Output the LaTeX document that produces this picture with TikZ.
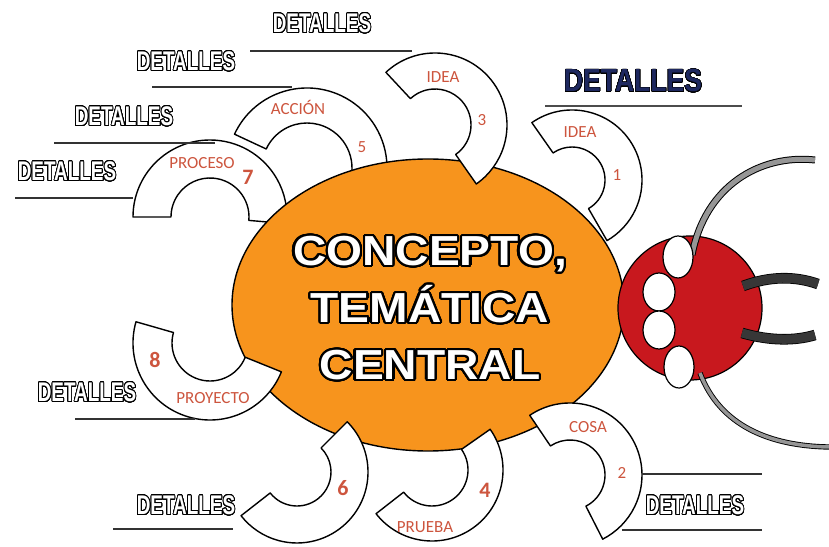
\documentclass[tikz,border=0pt]{standalone}
\usepackage{fontspec}
\setmainfont{Liberation Sans}
\newfontfamily\patafont{Carlito}
\usepackage{contour}
\contournumber{32}
\usetikzlibrary{calc}

\definecolor{naranja}{RGB}{247,148,29}
\definecolor{rojo}{RGB}{200,24,30}
\definecolor{tinta}{RGB}{205,85,62}
\definecolor{marino}{RGB}{30,40,95}
\definecolor{pinza}{RGB}{55,55,55}
\definecolor{antena}{RGB}{150,150,150}

% letras blancas con borde negro
\newcommand{\hueco}[3]{\scalebox{#1}[1]{\contourlength{#2}\contour{black}{#3}}}

\begin{document}
\begin{tikzpicture}[x=1pt, y=1pt,
    pata/.style={draw=black, fill=white, line width=1.4pt, line join=round},
    rotulo/.style={text=tinta, font=\patafont\fontsize{17}{17}\selectfont, inner sep=0pt},
    numero/.style={text=tinta, font=\patafont\fontsize{17}{17}\selectfont, inner sep=0pt},
    numgrande/.style={text=tinta, font=\patafont\bfseries\fontsize{22}{22}\selectfont, inner sep=0pt},
    detalles/.style={text=white, font=\bfseries\fontsize{27}{27}\selectfont, inner sep=0pt},
    raya/.style={draw=black!80, line width=1.8pt}]
\useasboundingbox (0,0) rectangle (829,546);

% patas que quedan debajo del cuerpo
\foreach \cx/\cy/\ro/\ri/\a/\b in {572/366/70/33/125/-60, 307/378/80/45/155/-30, 210/329/77/39/180/-5}
    \draw[pata] (\cx,\cy) ++(\a:\ro) arc[start angle=\a, end angle=\b, radius=\ro]
        -- ($(\cx,\cy)+(\b:\ri)$) arc[start angle=\b, end angle=\a, radius=\ri] -- cycle;

% cuerpo
\draw[fill=naranja, line width=1.4pt] (428,241) ellipse[x radius=196, y radius=146];

% patas encima del cuerpo
\foreach \cx/\cy/\ro/\ri/\a/\b in {570/71/72/35/124/-63, 435/421/72/36/133/-55, 432/76/71/36/35/-142,
        297/74/71/34/45/-142, 210/203/77/38/164/338}
    \draw[pata] (\cx,\cy) ++(\a:\ro) arc[start angle=\a, end angle=\b, radius=\ro]
        -- ($(\cx,\cy)+(\b:\ri)$) arc[start angle=\b, end angle=\a, radius=\ri] -- cycle;

% cabeza, antenas y pinzas
\draw[fill=rojo, line width=1.2pt] (690,238) circle[radius=72];
\draw[draw=black, double=antena, double distance=5pt, line width=1pt]
    (692,291) .. controls (705,360) and (760,392) .. (815,386);
\draw[draw=black, double=antena, double distance=3.5pt, line width=0.9pt]
    (700,173) .. controls (720,120) and (770,100) .. (829,99);
\draw[draw=black, double=pinza, double distance=9pt, line width=0.8pt]
    (743,260) .. controls (770,270) and (795,270) .. (818,262);
\draw[draw=black, double=pinza, double distance=9pt, line width=0.8pt]
    (742,213) .. controls (770,205) and (795,205) .. (815,211);
\foreach \ex/\ey/\rx/\ry in {678/289/15/21, 659/254/16/19, 659/216/16/19, 679/179/15/21}
    \draw[fill=white, line width=1.2pt] (\ex,\ey) ellipse[x radius=\rx, y radius=\ry];

% texto central
\node[text=white, font=\bfseries\fontsize{42}{57}\selectfont, align=center] (tema) at (430,237)
    {\hueco{1.1}{2pt}{CONCEPTO,}\\\hueco{1.1}{2pt}{TEMÁTICA}\\\hueco{1.1}{2pt}{CENTRAL}};

% rotulos de las patas
\node[rotulo] (idea1) at (580,414) {IDEA};
\node[numero] (n1) at (617,371) {1};
\node[rotulo] (cosa) at (588,119) {COSA};
\node[numero] (n2) at (622,73) {2};
\node[rotulo] (idea3) at (443,469) {IDEA};
\node[numero] (n3) at (482,426) {3};
\node[rotulo] (prueba) at (425,19) {PRUEBA};
\node[numgrande] (n4) at (485,56) {4};
\node[rotulo] (accion) at (298,439) {ACCIÓN};
\node[numero] (n5) at (362,399) {5};
\node[numgrande] (n6) at (343,58) {6};
\node[rotulo] (proceso) at (202,383) {PROCESO};
\node[numgrande] (n7) at (248,369) {7};
\node[numgrande] (n8) at (155,186) {8};
\node[rotulo] (proyecto) at (213,148) {PROYECTO};

% detalles
\node[detalles] (det3) at (322,522) {\hueco{0.7}{1.2pt}{DETALLES}};
\draw[raya] (250,495) -- (412,495);
\node[detalles] (det5) at (186,484) {\hueco{0.7}{1.2pt}{DETALLES}};
\draw[raya] (152,459) -- (292,459);
\node[detalles] (det7a) at (124,429) {\hueco{0.7}{1.2pt}{DETALLES}};
\draw[raya] (54,403) -- (215,403);
\node[detalles] (det7b) at (67,374) {\hueco{0.7}{1.2pt}{DETALLES}};
\draw[raya] (15,348) -- (133,348);
\node[detalles, text=marino, font=\bfseries\fontsize{32}{32}\selectfont] (det1) at (633,465)
    {\hueco{0.83}{0.6pt}{DETALLES}};
\draw[raya, draw=black!70, line width=2.5pt] (545,440) -- (742,440);
\node[detalles] (det8) at (87,153) {\hueco{0.7}{1.2pt}{DETALLES}};
\draw[raya] (75,127) -- (195,127);
\node[detalles] (det6) at (186,40) {\hueco{0.7}{1.2pt}{DETALLES}};
\draw[raya] (113,17) -- (233,17);
\node[detalles] (det2) at (695,40) {\hueco{0.7}{1.2pt}{DETALLES}};
\draw[raya] (642,72) -- (762,72);
\draw[raya] (622,16) -- (762,16);
\end{tikzpicture}
\end{document}
